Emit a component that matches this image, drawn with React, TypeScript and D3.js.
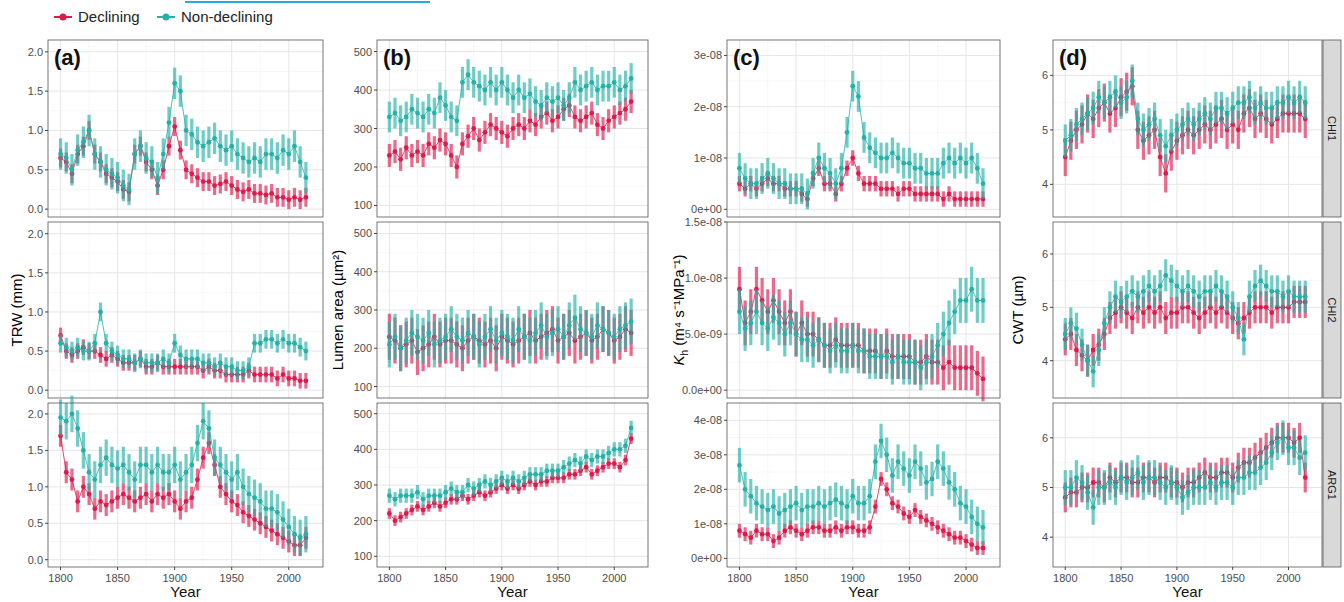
import React from "react";
import * as d3 from "d3";

const YEARS = d3.range(1800, 2016, 5);
const RED = "#E0194B";
const TEAL = "#22B2A8";
const SITES = ["CHI1", "CHI2", "ARG1"];
const PANEL_LABELS = ["(a)", "(b)", "(c)", "(d)"];

// TRW (mm)
const trwDec = [
  [.65,.6,.45,.7,.8,1.0,.7,.6,.45,.4,.35,.25,.22,.7,.8,.6,.5,.3,.5,.8,1.05,.75,.5,.45,.4,.35,.35,.3,.32,.35,.3,.25,.22,.25,.2,.2,.18,.2,.15,.15,.12,.15,.12,.15],
  [.7,.5,.45,.5,.55,.5,.5,.45,.4,.45,.4,.35,.35,.35,.4,.3,.3,.35,.3,.3,.3,.3,.3,.3,.3,.25,.3,.25,.25,.2,.2,.2,.2,.25,.2,.2,.2,.2,.15,.2,.15,.15,.12,.12],
  [1.7,1.2,1.1,.8,1.0,.9,.7,.8,.75,.8,.85,.9,.85,.8,.85,.9,.8,.9,.85,.9,.8,.7,.8,.85,1.1,1.4,1.6,1.3,1.0,.9,.8,.75,.65,.6,.55,.5,.45,.4,.35,.3,.25,.2,.2,.3],
];
const trwNon = [
  [.7,.65,.5,.75,.85,1.0,.7,.6,.5,.45,.4,.3,.25,.7,.8,.65,.6,.4,.7,1.1,1.6,1.5,1.0,.95,.85,.8,.85,.9,.8,.75,.8,.7,.65,.6,.65,.6,.7,.7,.65,.75,.7,.8,.6,.4],
  [.6,.55,.5,.55,.5,.5,.6,1.0,.6,.5,.45,.4,.4,.35,.4,.35,.35,.35,.4,.35,.6,.45,.4,.4,.4,.35,.35,.3,.35,.3,.3,.25,.25,.3,.6,.6,.65,.65,.6,.65,.6,.6,.55,.5],
  [1.95,1.9,2.0,1.8,1.5,1.2,1.1,1.3,1.4,1.3,1.25,1.3,1.2,1.1,1.3,1.3,1.2,1.3,1.2,1.2,1.3,1.1,1.2,1.3,1.6,1.9,1.8,1.4,1.3,1.2,1.1,1.2,1.0,.9,.85,.8,.7,.7,.65,.55,.45,.35,.3,.35],
];
// Lumen area (µm²)
const laDec = [
  [230,240,220,250,230,240,230,260,250,270,260,230,200,260,280,300,270,290,310,300,290,280,300,310,300,320,310,330,340,320,330,350,360,330,320,330,340,310,300,320,330,340,350,370],
  [230,220,200,210,220,190,200,210,230,210,220,220,210,200,220,230,220,210,220,200,230,220,210,220,230,240,220,230,240,250,220,230,240,220,230,240,220,230,250,240,220,230,250,240],
  [220,200,210,220,230,240,230,240,250,240,250,260,260,270,260,270,280,270,280,290,300,290,300,290,300,310,300,310,310,320,320,320,330,330,340,350,330,340,350,360,360,350,370,430],
];
const laNon = [
  [330,340,320,330,350,340,330,350,340,380,360,330,320,420,440,420,410,400,420,400,420,400,380,400,380,390,370,360,380,370,380,360,380,420,400,410,420,400,410,410,420,400,410,430],
  [210,230,200,220,240,230,220,240,210,220,230,250,230,220,240,230,210,230,250,220,240,230,220,250,230,220,240,260,230,240,250,230,260,280,250,240,230,260,250,240,230,250,260,270],
  [270,260,270,270,270,280,260,270,270,270,280,290,280,280,300,290,300,310,300,310,320,310,320,310,320,330,330,330,340,340,340,350,360,370,360,380,370,380,380,390,400,400,410,460],
];
// Kh (×1e-8 m⁴ s⁻¹ MPa⁻¹)
const khDec = [
  [.5,.4,.5,.4,.5,.6,.5,.5,.4,.4,.4,.3,.2,.6,.8,.5,.5,.3,.5,.8,1.0,.7,.5,.5,.5,.4,.4,.4,.3,.4,.4,.3,.3,.3,.3,.3,.2,.3,.2,.2,.2,.2,.2,.2],
  [.9,.6,.7,.9,.8,.7,.8,.7,.6,.7,.5,.6,.5,.5,.45,.4,.4,.45,.4,.4,.4,.4,.35,.35,.35,.3,.35,.3,.3,.3,.3,.25,.25,.3,.25,.25,.2,.25,.2,.2,.2,.2,.15,.1],
  [.8,.7,.6,.8,.7,.7,.5,.6,.8,.9,.8,.7,.8,.9,.9,.8,.8,.9,.8,.9,.9,.8,.8,.9,1.5,2.3,2.0,1.6,1.5,1.3,1.2,1.4,1.2,1.1,1.0,.9,.8,.7,.6,.6,.5,.4,.3,.3],
];
const khNon = [
  [.8,.6,.5,.5,.6,.7,.6,.5,.5,.4,.4,.4,.3,.7,1.0,.8,.7,.5,.8,1.5,2.4,2.2,1.4,1.2,1.1,1.0,1.0,1.1,1.0,.9,.9,.8,.8,.7,.7,.7,.9,1.0,.9,1.0,.9,1.0,.8,.5],
  [.7,.55,.6,.7,.6,.55,.65,.6,.5,.6,.5,.45,.45,.4,.45,.4,.35,.4,.35,.35,.4,.35,.35,.3,.3,.3,.3,.25,.3,.25,.25,.25,.2,.25,.3,.4,.5,.6,.7,.8,.8,.9,.8,.8],
  [2.7,2.0,1.8,1.6,1.5,1.4,1.5,1.3,1.4,1.5,1.6,1.4,1.5,1.5,1.6,1.5,1.6,1.7,1.6,1.5,1.8,1.6,1.6,1.8,2.8,3.4,3.0,2.4,2.8,2.6,2.4,2.8,2.6,2.2,2.3,2.8,2.6,2.2,2.0,1.6,1.5,1.2,1.0,.9],
];
// CWT (µm)
const cwtDec = [
  [4.5,4.8,5.0,5.1,5.3,5.2,5.4,5.5,5.3,5.4,5.6,5.7,5.8,5.0,4.8,4.9,5.0,4.5,4.2,4.6,4.8,4.9,5.0,4.9,5.0,5.1,5.0,5.1,5.2,5.0,5.1,5.0,5.3,5.4,5.2,5.3,5.2,5.1,5.2,5.3,5.3,5.3,5.3,5.2],
  [4.4,4.5,4.2,4.1,4.0,4.2,4.3,4.5,4.8,4.9,5.0,4.9,4.8,5.0,4.9,5.0,4.9,5.0,4.8,4.9,4.9,5.0,5.0,4.9,4.8,4.9,5.0,4.9,5.0,4.9,4.8,4.7,4.8,4.9,5.0,5.0,5.0,4.9,5.0,5.0,5.0,5.1,5.1,5.1],
  [4.8,4.9,4.9,5.0,5.0,5.1,5.1,5.0,5.2,5.1,5.2,5.2,5.1,5.1,5.2,5.2,5.1,5.2,5.2,5.1,5.1,5.0,5.1,5.1,5.2,5.3,5.2,5.2,5.3,5.3,5.2,5.4,5.5,5.5,5.6,5.7,5.8,5.9,6.0,6.0,6.0,5.9,6.0,5.2],
];
const cwtNon = [
  [4.8,4.9,5.1,5.2,5.3,5.4,5.6,5.5,5.6,5.7,5.5,5.6,5.9,5.2,5.0,5.1,5.2,4.9,4.7,4.9,5.0,5.1,5.2,5.1,5.2,5.3,5.2,5.4,5.4,5.3,5.4,5.5,5.5,5.6,5.4,5.5,5.4,5.4,5.5,5.5,5.6,5.5,5.6,5.5],
  [4.5,4.7,4.6,4.3,4.0,3.8,4.2,4.7,5.0,5.2,5.1,5.2,5.3,5.2,5.3,5.4,5.3,5.4,5.6,5.5,5.4,5.3,5.4,5.3,5.2,5.3,5.3,5.4,5.3,5.2,5.0,4.8,4.4,5.2,5.4,5.5,5.4,5.3,5.3,5.2,5.3,5.2,5.2,5.2],
  [5.0,5.0,5.2,5.1,4.9,4.6,5.0,5.0,5.1,5.0,5.2,5.1,5.2,5.3,5.1,5.2,5.2,5.1,5.0,5.1,5.0,4.8,4.9,5.0,5.0,5.0,5.1,5.0,5.1,5.1,5.0,5.2,5.2,5.3,5.3,5.4,5.5,5.7,5.9,6.0,5.8,5.8,5.6,5.7],
];
// error half-widths [row][dec, non]
const trwErr = [[.12,.2],[.1,.12],[.15,.25]];
const laErr = [[30,40],[60,60],[15,20]];
const khErr = [[.15,.3],[.2,.2],[.2,.5]];
const cwtErr = [[.35,.3],[.3,.3],[.3,.35]];

const YDOM = [
  [[-0.1, 2.15], [-0.1, 2.15], [-0.1, 2.15]],
  [[70, 530], [70, 530], [70, 530]],
  [[-0.15, 3.3], [-0.07, 1.5], [-0.25, 4.5]],
  [[3.4, 6.65], [3.3, 6.6], [3.4, 6.7]],
];
const YTICKS = [
  [[0, .5, 1, 1.5, 2], [0, .5, 1, 1.5, 2], [0, .5, 1, 1.5, 2]],
  [[100, 200, 300, 400, 500], [100, 200, 300, 400, 500], [100, 200, 300, 400, 500]],
  [[0, 1, 2, 3], [0, .5, 1, 1.5], [0, 1, 2, 3, 4]],
  [[4, 5, 6], [4, 5, 6], [4, 5, 6]],
];
const KH_LABELS = [
  ["0e+00", "1e-08", "2e-08", "3e-08"],
  ["0.0e+00", "5.0e-09", "1.0e-08", "1.5e-08"],
  ["0e+00", "1e-08", "2e-08", "3e-08", "4e-08"],
];
const XTICKS = [1800, 1850, 1900, 1950, 2000];

const COLS = [
  { x0: 48, x1: 323, dec: trwDec, non: trwNon, err: trwErr },
  { x0: 377, x1: 648, dec: laDec, non: laNon, err: laErr },
  { x0: 727, x1: 1000, dec: khDec, non: khNon, err: khErr },
  { x0: 1053, x1: 1322, dec: cwtDec, non: cwtNon, err: cwtErr },
];
const ROWS = [[40, 217], [222, 398], [403, 567]];

function fmt(c: number, r: number, v: number, i: number) {
  if (c === 0) return v.toFixed(1);
  if (c === 2) return KH_LABELS[r][i];
  return String(v);
}

export default function App() {
  const font = "Arial, Liberation Sans, sans-serif";
  return (
    <svg width={1344} height={602} style={{ position: "absolute", left: 0, top: 0, fontFamily: font }}>
      <rect width={1344} height={602} fill="white" />
      <line x1={185} x2={430} y1={2} y2={2} stroke="#29A9E0" strokeWidth={2} />
      <g>
        <line x1={54} x2={72} y1={17} y2={17} stroke={RED} strokeWidth={2} />
        <circle cx={63} cy={17} r={3.5} fill={RED} />
        <text x={78} y={22} fontSize={15} fill="#222">Declining</text>
        <line x1={157} x2={175} y1={17} y2={17} stroke={TEAL} strokeWidth={2} />
        <circle cx={166} cy={17} r={3.5} fill={TEAL} />
        <text x={181} y={22} fontSize={15} fill="#222">Non-declining</text>
      </g>
      {COLS.map((col, c) => {
        const x = d3.scaleLinear().domain([1789, 2030]).range([col.x0, col.x1]);
        return (
          <g key={c}>
            {ROWS.map(([y0, y1], r) => {
              const y = d3.scaleLinear().domain(YDOM[c][r]).range([y1, y0]);
              const ticks = YTICKS[c][r];
              const minor = ticks.slice(0, -1).map((t, i) => (t + ticks[i + 1]) / 2);
              const series = [
                { vals: col.dec[r], e: col.err[r][0], color: RED },
                { vals: col.non[r], e: col.err[r][1], color: TEAL },
              ];
              const line = d3.line<number>().x((_, i) => x(YEARS[i])).y((v) => y(v));
              return (
                <g key={r}>
                  {minor.map((t) => (
                    <line key={"m" + t} x1={col.x0} x2={col.x1} y1={y(t)} y2={y(t)} stroke="#F2F2F2" strokeWidth={0.6} />
                  ))}
                  {[1825, 1875, 1925, 1975].map((t) => (
                    <line key={"mx" + t} x1={x(t)} x2={x(t)} y1={y0} y2={y1} stroke="#F2F2F2" strokeWidth={0.6} />
                  ))}
                  {ticks.map((t) => (
                    <line key={"g" + t} x1={col.x0} x2={col.x1} y1={y(t)} y2={y(t)} stroke="#E6E6E6" strokeWidth={1} />
                  ))}
                  {XTICKS.map((t) => (
                    <line key={"gx" + t} x1={x(t)} x2={x(t)} y1={y0} y2={y1} stroke="#E6E6E6" strokeWidth={1} />
                  ))}
                  {series.map((s, si) => (
                    <g key={si}>
                      {s.vals.map((v, i) => (
                        <rect key={i} x={x(YEARS[i]) - 1.6} width={3.2} y={y(v + s.e)} height={y(v - s.e) - y(v + s.e)}
                          fill={s.color} opacity={0.65} />
                      ))}
                      <path d={line(s.vals) || ""} fill="none" stroke={s.color} strokeWidth={1} opacity={0.8} />
                      {s.vals.map((v, i) => (
                        <circle key={"p" + i} cx={x(YEARS[i])} cy={y(v)} r={2.4} fill={s.color} />
                      ))}
                    </g>
                  ))}
                  <rect x={col.x0} y={y0} width={col.x1 - col.x0} height={y1 - y0} fill="none" stroke="#555" strokeWidth={0.8} />
                  {ticks.map((t, i) => (
                    <g key={"t" + t}>
                      <line x1={col.x0 - 3} x2={col.x0} y1={y(t)} y2={y(t)} stroke="#444" />
                      <text x={col.x0 - 5} y={y(t) + 4} textAnchor="end" fontSize={11} fill="#4D4D4D">{fmt(c, r, t, i)}</text>
                    </g>
                  ))}
                  {r === 0 && (
                    <text x={col.x0 + 6} y={y0 + 25} fontSize={22} fontWeight="bold" fill="#111">{PANEL_LABELS[c]}</text>
                  )}
                  {r === 2 && XTICKS.map((t) => (
                    <g key={"xt" + t}>
                      <line x1={x(t)} x2={x(t)} y1={y1} y2={y1 + 3} stroke="#444" />
                      <text x={x(t)} y={y1 + 15} textAnchor="middle" fontSize={11} fill="#4D4D4D">{t}</text>
                    </g>
                  ))}
                  {c === 3 && (
                    <g>
                      <rect x={1323} y={y0} width={18} height={y1 - y0} fill="#D9D9D9" stroke="#555" strokeWidth={0.8} />
                      <text transform={`translate(${1328},${(y0 + y1) / 2}) rotate(90)`} textAnchor="middle" fontSize={11} fill="#1A1A1A">{SITES[r]}</text>
                    </g>
                  )}
                </g>
              );
            })}
            <text x={(col.x0 + col.x1) / 2} y={597} textAnchor="middle" fontSize={15} fill="#111">Year</text>
          </g>
        );
      })}
      <text transform="translate(22,310) rotate(-90)" textAnchor="middle" fontSize={15}>TRW (mm)</text>
      <text transform="translate(343,310) rotate(-90)" textAnchor="middle" fontSize={15}>Lumen area (µm²)</text>
      <text transform="translate(684,310) rotate(-90)" textAnchor="middle" fontSize={15}>
        <tspan fontStyle="italic">K</tspan><tspan fontSize={10} dy={4}>h</tspan><tspan dy={-4}> (m⁴ s⁻¹MPa⁻¹)</tspan>
      </text>
      <text transform="translate(1023,310) rotate(-90)" textAnchor="middle" fontSize={15}>CWT (µm)</text>
    </svg>
  );
}
